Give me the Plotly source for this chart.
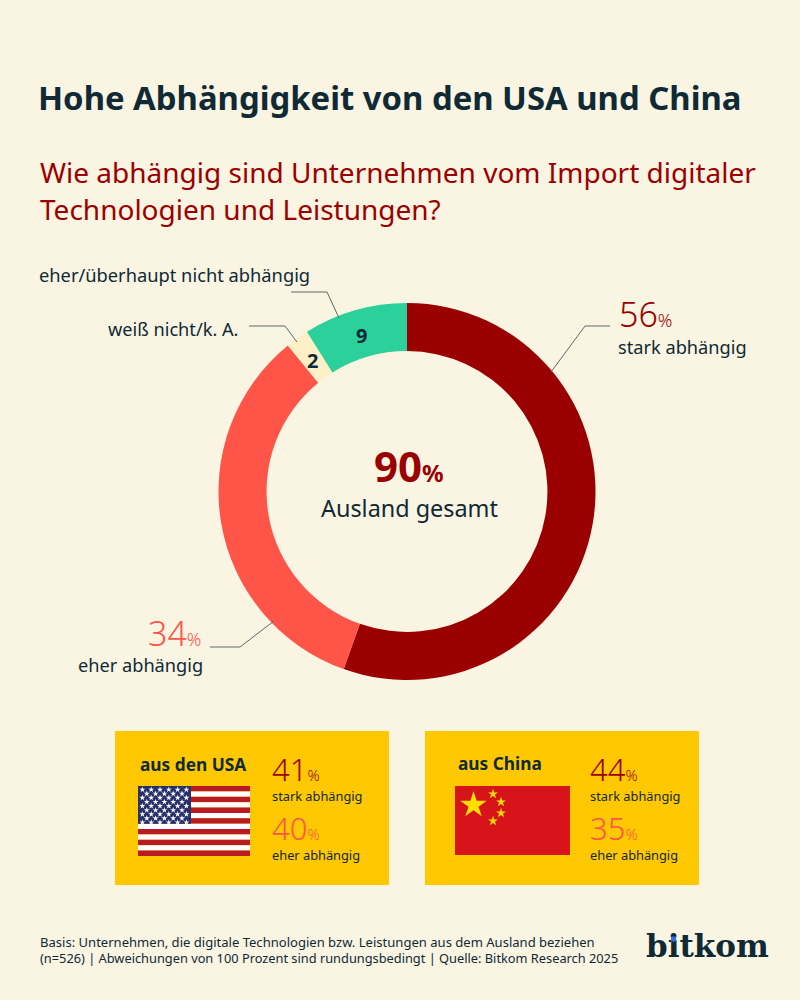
import plotly.graph_objects as go

FONT = "Noto Sans"
INK = "#0f2a35"
DARK_RED = "#9b0000"
RED = "#ff5548"
GREEN = "#2bd09b"
CREAM = "#fdefc6"
BG = "#faf4e3"
YELLOW = "#ffc800"
LINE = "#5c6a6a"

# Data
categories = ["stark abhängig", "eher abhängig", "weiß nicht/k. A.", "eher/überhaupt nicht abhängig"]
values = [56, 34, 2, 9]
slice_colors = [DARK_RED, RED, CREAM, GREEN]
total_abroad = 90
usa_values = [41, 40]
china_values = [44, 35]

fig = go.Figure()

# Donut
cx, cy, r = 407, 491.5, 188.5
fig.add_trace(go.Pie(
    labels=categories, values=values, sort=False, direction="clockwise", rotation=0,
    hole=0.745, textinfo="none", hoverinfo="label+value",
    marker=dict(colors=slice_colors, line=dict(width=0)),
    domain=dict(x=[(cx - r) / 800, (cx + r) / 800], y=[1 - (cy + r) / 1000, 1 - (cy - r) / 1000]),
    showlegend=False,
))


def text(x, y, s, size, color=INK, anchor="left", weight=400):
    fig.add_annotation(x=x, y=y, xref="x", yref="y", text=s, showarrow=False, xanchor=anchor,
                       yanchor="middle", borderpad=0, font=dict(family=FONT, size=size, color=color, weight=weight))


def pct(value, small=18):
    return f"{value}<span style='font-size:{small}px'>%</span>"


def leader(points):
    d = "M " + " L ".join(f"{x},{y}" for x, y in points)
    fig.add_shape(type="path", path=d, xref="x", yref="y", line=dict(color=LINE, width=1))


def rect(x0, x1, y0, y1, color, layer="below"):
    fig.add_shape(type="rect", xref="x", yref="y", x0=x0, x1=x1, y0=y0, y1=y1,
                  fillcolor=color, line=dict(width=0), layer=layer)


# Headings
text(37, 97, "Hohe Abhängigkeit von den USA und China", 32.85, weight=700)
text(39, 172, "Wie abhängig sind Unternehmen vom Import digitaler", 28, DARK_RED)
text(39, 209, "Technologien und Leistungen?", 28, DARK_RED)

# Donut labels
text(409, 465, pct(total_abroad, 24), 42, DARK_RED, "center", 700)
text(409, 508, "Ausland gesamt", 23.4, anchor="center")
text(618, 314, pct(values[0]), 34, DARK_RED, weight=300)
text(617, 347, categories[0], 18.2)
text(147, 633, pct(values[1]), 34, RED, weight=300)
text(77, 665, categories[1], 18.2)
text(38, 274, categories[3], 18.3)
text(107, 329, categories[2], 18.2)
text(361, 335, str(values[3]), 20, anchor="center", weight=700)
text(312, 360, str(values[2]), 20, anchor="center", weight=700)
leader([(551, 372), (585, 326), (610, 326)])
leader([(274, 621), (240, 647), (210, 647)])
leader([(291, 292), (327, 292), (339, 318)])
leader([(249, 326), (285, 326), (297, 342)])

# Boxes
rect(115, 389, 731, 885, YELLOW)
rect(425, 699, 731, 885, YELLOW)

# US flag
fx0, fx1, fy0, fy1 = 138, 250, 786, 856
stripe = (fy1 - fy0) / 13
for i in range(13):
    rect(fx0, fx1, fy0 + i * stripe, fy0 + (i + 1) * stripe, "#b81c22" if i % 2 == 0 else "white")
rect(fx0, fx0 + 53, fy0, fy0 + 7 * stripe, "#27306b")
star_x, star_y = [], []
for row in range(9):
    n = 6 if row % 2 == 0 else 5
    for c in range(n):
        star_x.append(fx0 + 4.4 + c * 8.8 + (0 if row % 2 == 0 else 4.4))
        star_y.append(fy0 + 3.6 + row * 4.1)
fig.add_trace(go.Scatter(x=star_x, y=star_y, mode="markers", hoverinfo="skip", showlegend=False,
                         marker=dict(symbol="star", size=4.5, color="white", line=dict(width=0))))

# China flag
rect(455, 570, 786, 855, "#d7141a")
fig.add_trace(go.Scatter(x=[473.5, 493, 501, 501, 493], y=[805, 794, 802, 813, 821], mode="markers",
                         hoverinfo="skip", showlegend=False,
                         marker=dict(symbol="star", size=[20, 7.5, 7.5, 7.5, 7.5], color="#ffde00", opacity=1,
                                     line=dict(width=0))))

# Box texts
text(193, 764, "aus den USA", 17.3, anchor="center", weight=700)
text(271, 769, pct(usa_values[0], 15), 31, DARK_RED, weight=300)
text(271, 796, categories[0], 12.8)
text(271, 828, pct(usa_values[1], 15), 31, RED, weight=300)
text(271, 855, categories[1], 12.8)
text(457, 763, "aus China", 17.3, weight=700)
text(589, 769, pct(china_values[0], 15), 31, DARK_RED, weight=300)
text(589, 796, categories[0], 12.8)
text(589, 828, pct(china_values[1], 15), 31, RED, weight=300)
text(589, 855, categories[1], 12.8)

# Footer
text(39, 942, "Basis: Unternehmen, die digitale Technologien bzw. Leistungen aus dem Ausland beziehen", 13.05)
text(39, 958, "(n=526) | Abweichungen von 100 Prozent sind rundungsbedingt | Quelle: Bitkom Research 2025", 12.8)

# Logo as a text trace, so the blue dot on the i can sit on top of it as a shape
fig.add_trace(go.Scatter(x=[646], y=[949], mode="text", text=["bitkom"], textposition="middle right",
                         hoverinfo="skip", showlegend=False,
                         textfont=dict(family="DejaVu Serif", size=31, color=INK, weight=700)))
rect(671, 676, 936.5, 941.5, "#2f6fe0", layer="above")

fig.update_layout(
    width=800, height=1000, margin=dict(l=0, r=0, t=0, b=0),
    paper_bgcolor=BG, plot_bgcolor=BG,
    xaxis=dict(range=[0, 800], visible=False, fixedrange=True),
    yaxis=dict(range=[1000, 0], visible=False, fixedrange=True),
)

fig.write_html("out.html", post_script="document.body.style.margin='0';", config=dict(displayModeBar=False))
